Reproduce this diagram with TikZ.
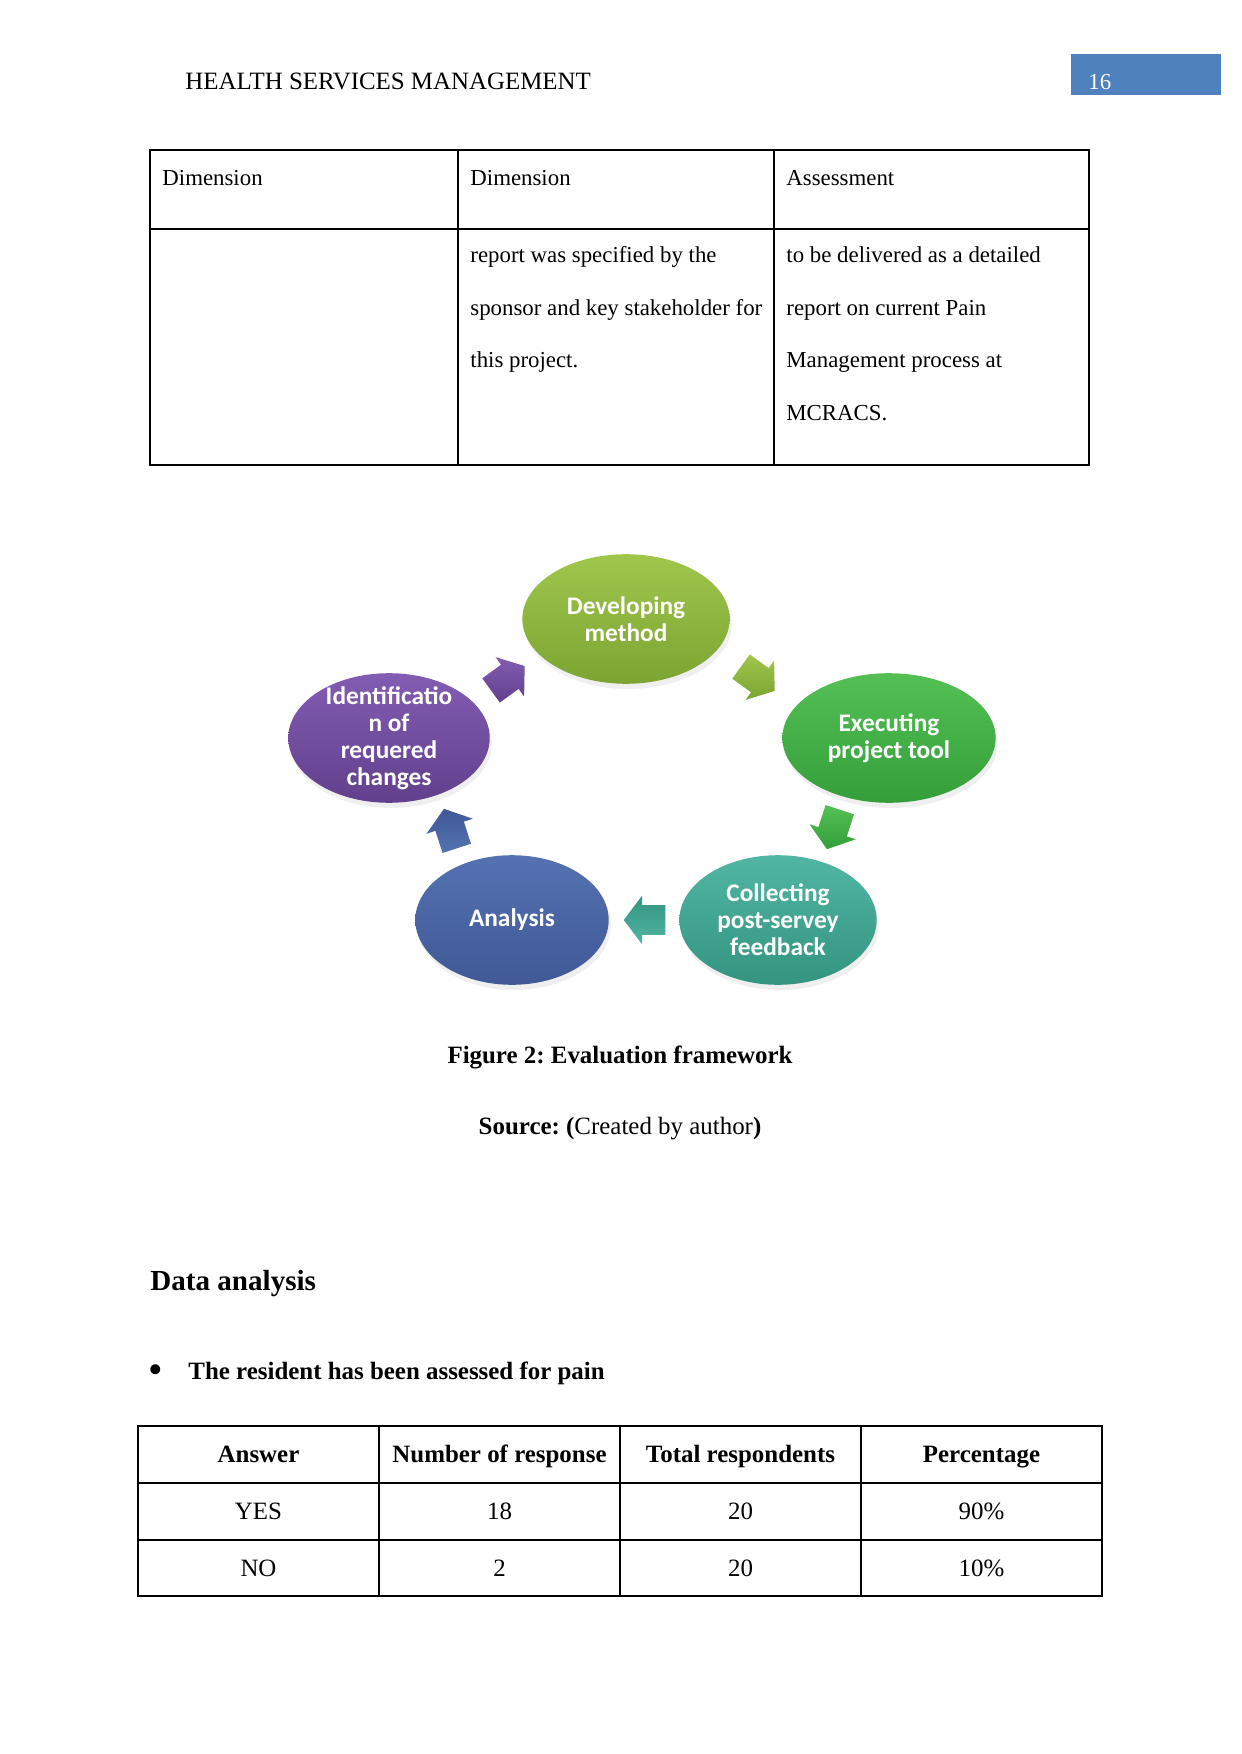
\documentclass[tikz,border=0pt]{standalone}
\usepackage{fontspec}
\setmainfont{Liberation Serif}
\newfontfamily\cyclefont{Carlito}
\usepackage{xcolor}
\usetikzlibrary{arrows.meta,positioning,shapes.geometric,shapes.arrows,shadows,calc}
\frenchspacing
\definecolor{headblue}{RGB}{79,129,189}
\definecolor{devtop}{RGB}{160,198,76}
\definecolor{devbot}{RGB}{124,164,50}
\definecolor{exectop}{RGB}{84,192,84}
\definecolor{execbot}{RGB}{52,158,58}
\definecolor{colltop}{RGB}{80,182,162}
\definecolor{collbot}{RGB}{52,148,128}
\definecolor{analtop}{RGB}{84,114,178}
\definecolor{analbot}{RGB}{64,88,150}
\definecolor{identtop}{RGB}{130,92,178}
\definecolor{identbot}{RGB}{98,64,140}
\tikzset{
  cyclenode/.style={
    ellipse,
    minimum height=62.4pt,
    inner sep=0pt,
    drop shadow={shadow xshift=1pt, shadow yshift=-2.5pt, opacity=0.12}
  },
  cyclelabel/.style={
    text=white,
    align=center,
    inner sep=0pt,
    font=\cyclefont\bfseries\fontsize{12.2}{13}\selectfont
  },
  cyclearrow/.style={
    single arrow,
    minimum height=20pt,
    minimum width=23pt,
    single arrow head extend=4.5pt,
    single arrow tip angle=106,
    inner xsep=0pt,
    inner ysep=7pt
  },
  tabline/.style={
    draw=black,
    line width=0.5pt
  },
  cell/.style={
    anchor=base west,
    inner sep=0pt,
    font=\fontsize{11}{13}\selectfont
  },
  datacell/.style={
    anchor=base,
    inner sep=0pt,
    font=\fontsize{12}{14}\selectfont
  }
}

\begin{document}
\begin{tikzpicture}[x=0.01692cm, y=-0.01692cm]
\useasboundingbox (0,0) rectangle (1241,1754);
\fill[white] (0,0) rectangle (1241,1754);

% running head
\node[anchor=base west, inner sep=0pt, font=\fontsize{12}{14}\selectfont] (runhead) at (185,90) {HEALTH SERVICES MANAGEMENT};
\fill[headblue] (1071,54) rectangle (1221,95);
\node[anchor=base west, inner sep=0pt, text=white, font=\fontsize{11}{13}\selectfont] (pageno) at (1088,90) {16};

% table carried over from previous page
\draw[tabline] (150,150) rectangle (1089,465);
\draw[tabline] (458,150) -- (458,465) (774,150) -- (774,465) (150,229) -- (1089,229);
\node[cell] (dim1) at (162,186) {Dimension};
\node[cell] (dim2) at (470,186) {Dimension};
\node[cell] (assess) at (786,186) {Assessment};
\foreach \txt [count=\i from 0] in {report was specified by the, sponsor and key stakeholder for, this project.}
  \node[cell] at (470,263+52.5*\i) {\txt};
\foreach \txt [count=\i from 0] in {to be delivered as a detailed, report on current Pain, Management process at, MCRACS.}
  \node[cell] at (786,263+52.5*\i) {\txt};

% evaluation cycle
\node[cyclenode, minimum width=99.8pt, top color=devtop, bottom color=devbot,
  label={[cyclelabel]center:{Developing\\method}}] (dev) at (626,619) {};
\node[cyclenode, minimum width=102.7pt, top color=exectop, bottom color=execbot,
  label={[cyclelabel]center:{Executing\\project tool}}] (exec) at (889,738) {};
\node[cyclenode, minimum width=95pt, top color=colltop, bottom color=collbot,
  label={[cyclelabel]center:{Collecting\\post-servey\\feedback}}] (coll) at (778,920) {};
\node[cyclenode, minimum width=93.1pt, top color=analtop, bottom color=analbot,
  label={[cyclelabel]center:{Analysis}}] (anal) at (512,920) {};
\node[cyclenode, minimum width=97pt, top color=identtop, bottom color=identbot,
  label={[cyclelabel]center:{Identificatio\\n of\\requered\\changes}}] (ident) at (389,738) {};

\node[cyclearrow, rotate=-36, xshift=-2.5pt, top color=devtop, bottom color=devbot] (dev-exec) at ($(dev)!0.5!(exec)$) {};
\node[cyclearrow, rotate=-108, xshift=-2.5pt, top color=exectop, bottom color=execbot] (exec-coll) at ($(exec)!0.5!(coll)$) {};
\node[cyclearrow, rotate=180, xshift=-2.5pt, top color=collbot, bottom color=colltop] (coll-anal) at ($(coll)!0.5!(anal)$) {};
\node[cyclearrow, rotate=108, xshift=-2.5pt, top color=analbot, bottom color=analtop] (anal-ident) at ($(anal)!0.5!(ident)$) {};
\node[cyclearrow, rotate=36, xshift=-2.5pt, top color=identtop, bottom color=identbot] (ident-dev) at ($(ident)!0.5!(dev)$) {};

% caption
\node[anchor=base, inner sep=0pt, font=\bfseries\fontsize{12}{14}\selectfont] (caption) at (620,1063) {Figure 2: Evaluation framework};
\node[anchor=base, inner sep=0pt, font=\fontsize{12}{14}\selectfont] (source) at (620,1134) {\textbf{Source: (}Created by author\textbf{)}};

% data analysis section
\node[anchor=base west, inner sep=0pt, font=\bfseries\fontsize{14}{16}\selectfont] (heading) at (150,1290) {Data analysis};
\node[anchor=base west, inner sep=0pt, font=\fontsize{20}{22}\selectfont] (bullet) at (148,1383) {\textbullet};
\node[anchor=base west, inner sep=0pt, font=\bfseries\fontsize{12}{14}\selectfont] (point) at (188,1379) {The resident has been assessed for pain};

% results table
\draw[tabline] (138,1426) rectangle (1102,1596);
\foreach \x in {379,620,861}
  \draw[tabline] (\x,1426) -- (\x,1596);
\draw[tabline] (138,1540) -- (1102,1540);
\draw[line width=1.3pt] (138,1483) -- (1102,1483);
\foreach \txt [count=\i from 0] in {Answer, Number of response, Total respondents, Percentage}
  \node[datacell, font=\bfseries\fontsize{12}{14}\selectfont] at (258.5+241*\i,1462) {\txt};
\foreach \txt [count=\i from 0] in {YES, 18, 20, 90\%}
  \node[datacell] at (258.5+241*\i,1519) {\txt};
\foreach \txt [count=\i from 0] in {NO, 2, 20, 10\%}
  \node[datacell] at (258.5+241*\i,1576) {\txt};
\end{tikzpicture}
\end{document}
